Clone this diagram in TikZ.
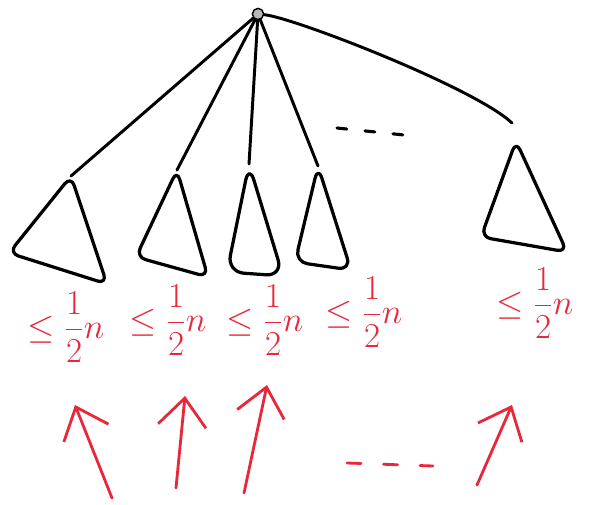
\documentclass[tikz,border=0pt]{standalone}
\usepackage{amsmath}
\usetikzlibrary{arrows.meta}
\definecolor{penred}{RGB}{232,40,58}
\begin{document}
\begin{tikzpicture}[x=.025cm,y=-.025cm,line cap=round,line join=round,
  subtree/.style={line width=2.3pt,rounded corners=7pt},
  edge/.style={line width=2.1pt},
  bound/.style={text=penred,font=\Huge},
  up/.style={penred,line width=2pt,-{Straight Barb[length=7mm,width=12mm]}}]
\useasboundingbox (0,0) rectangle (605,505);
\node[circle,draw,line width=1pt,fill=gray!55,inner sep=0pt,minimum size=8pt] (root) at (258,14) {};
\coordinate (a1) at (71,176);
\coordinate (a2) at (177,170);
\coordinate (a3) at (249,164);
\coordinate (a4) at (318,166);
\coordinate (e5) at (512,123);
\draw[edge] (root) -- (a1);
\draw[edge] (root) -- (a2);
\draw[edge] (root) -- (a3);
\draw[edge] (root) -- (a4);
\draw[edge] (root) .. controls (295,18) and (475,88) .. (e5);
\draw[subtree] (a1) -- (9,253) -- (107,284) -- cycle;
\draw[subtree] (a2) -- (136,257) -- (208,277) -- cycle;
\draw[subtree,rounded corners=12pt] (a3) -- (227,272) -- (283,276) -- cycle;
\draw[subtree,rounded corners=9pt] (a4) -- (295,262) -- (351,270) -- cycle;
\draw[subtree] (516,141) -- (481,237) -- (567,252) -- cycle;
\draw[line width=2.2pt,dash pattern=on 7pt off 13pt] (337,128) -- (404,135);
\node[bound] (l1) at (66,327) {$\le\dfrac{1}{2}n$};
\node[bound] (l2) at (168,320) {$\le\dfrac{1}{2}n$};
\node[bound] (l3) at (265,320) {$\le\dfrac{1}{2}n$};
\node[bound] (l4) at (364,312) {$\le\dfrac{1}{2}n$};
\node[bound] (l5) at (535,303) {$\le\dfrac{1}{2}n$};
\coordinate (b1) at (112,498);
\coordinate (h1) at (75,405);
\coordinate (b2) at (176,488);
\coordinate (h2) at (185,396);
\coordinate (b3) at (244,493);
\coordinate (h3) at (267,385);
\coordinate (b4) at (477,485);
\coordinate (h4) at (512,405);
\draw[up] (b1) -- (h1);
\draw[up] (b2) -- (h2);
\draw[up] (b3) -- (h3);
\draw[up] (b4) -- (h4);
\draw[penred,line width=2pt,dash pattern=on 10pt off 16pt] (347,463) -- (433,466);
\end{tikzpicture}
\end{document}
